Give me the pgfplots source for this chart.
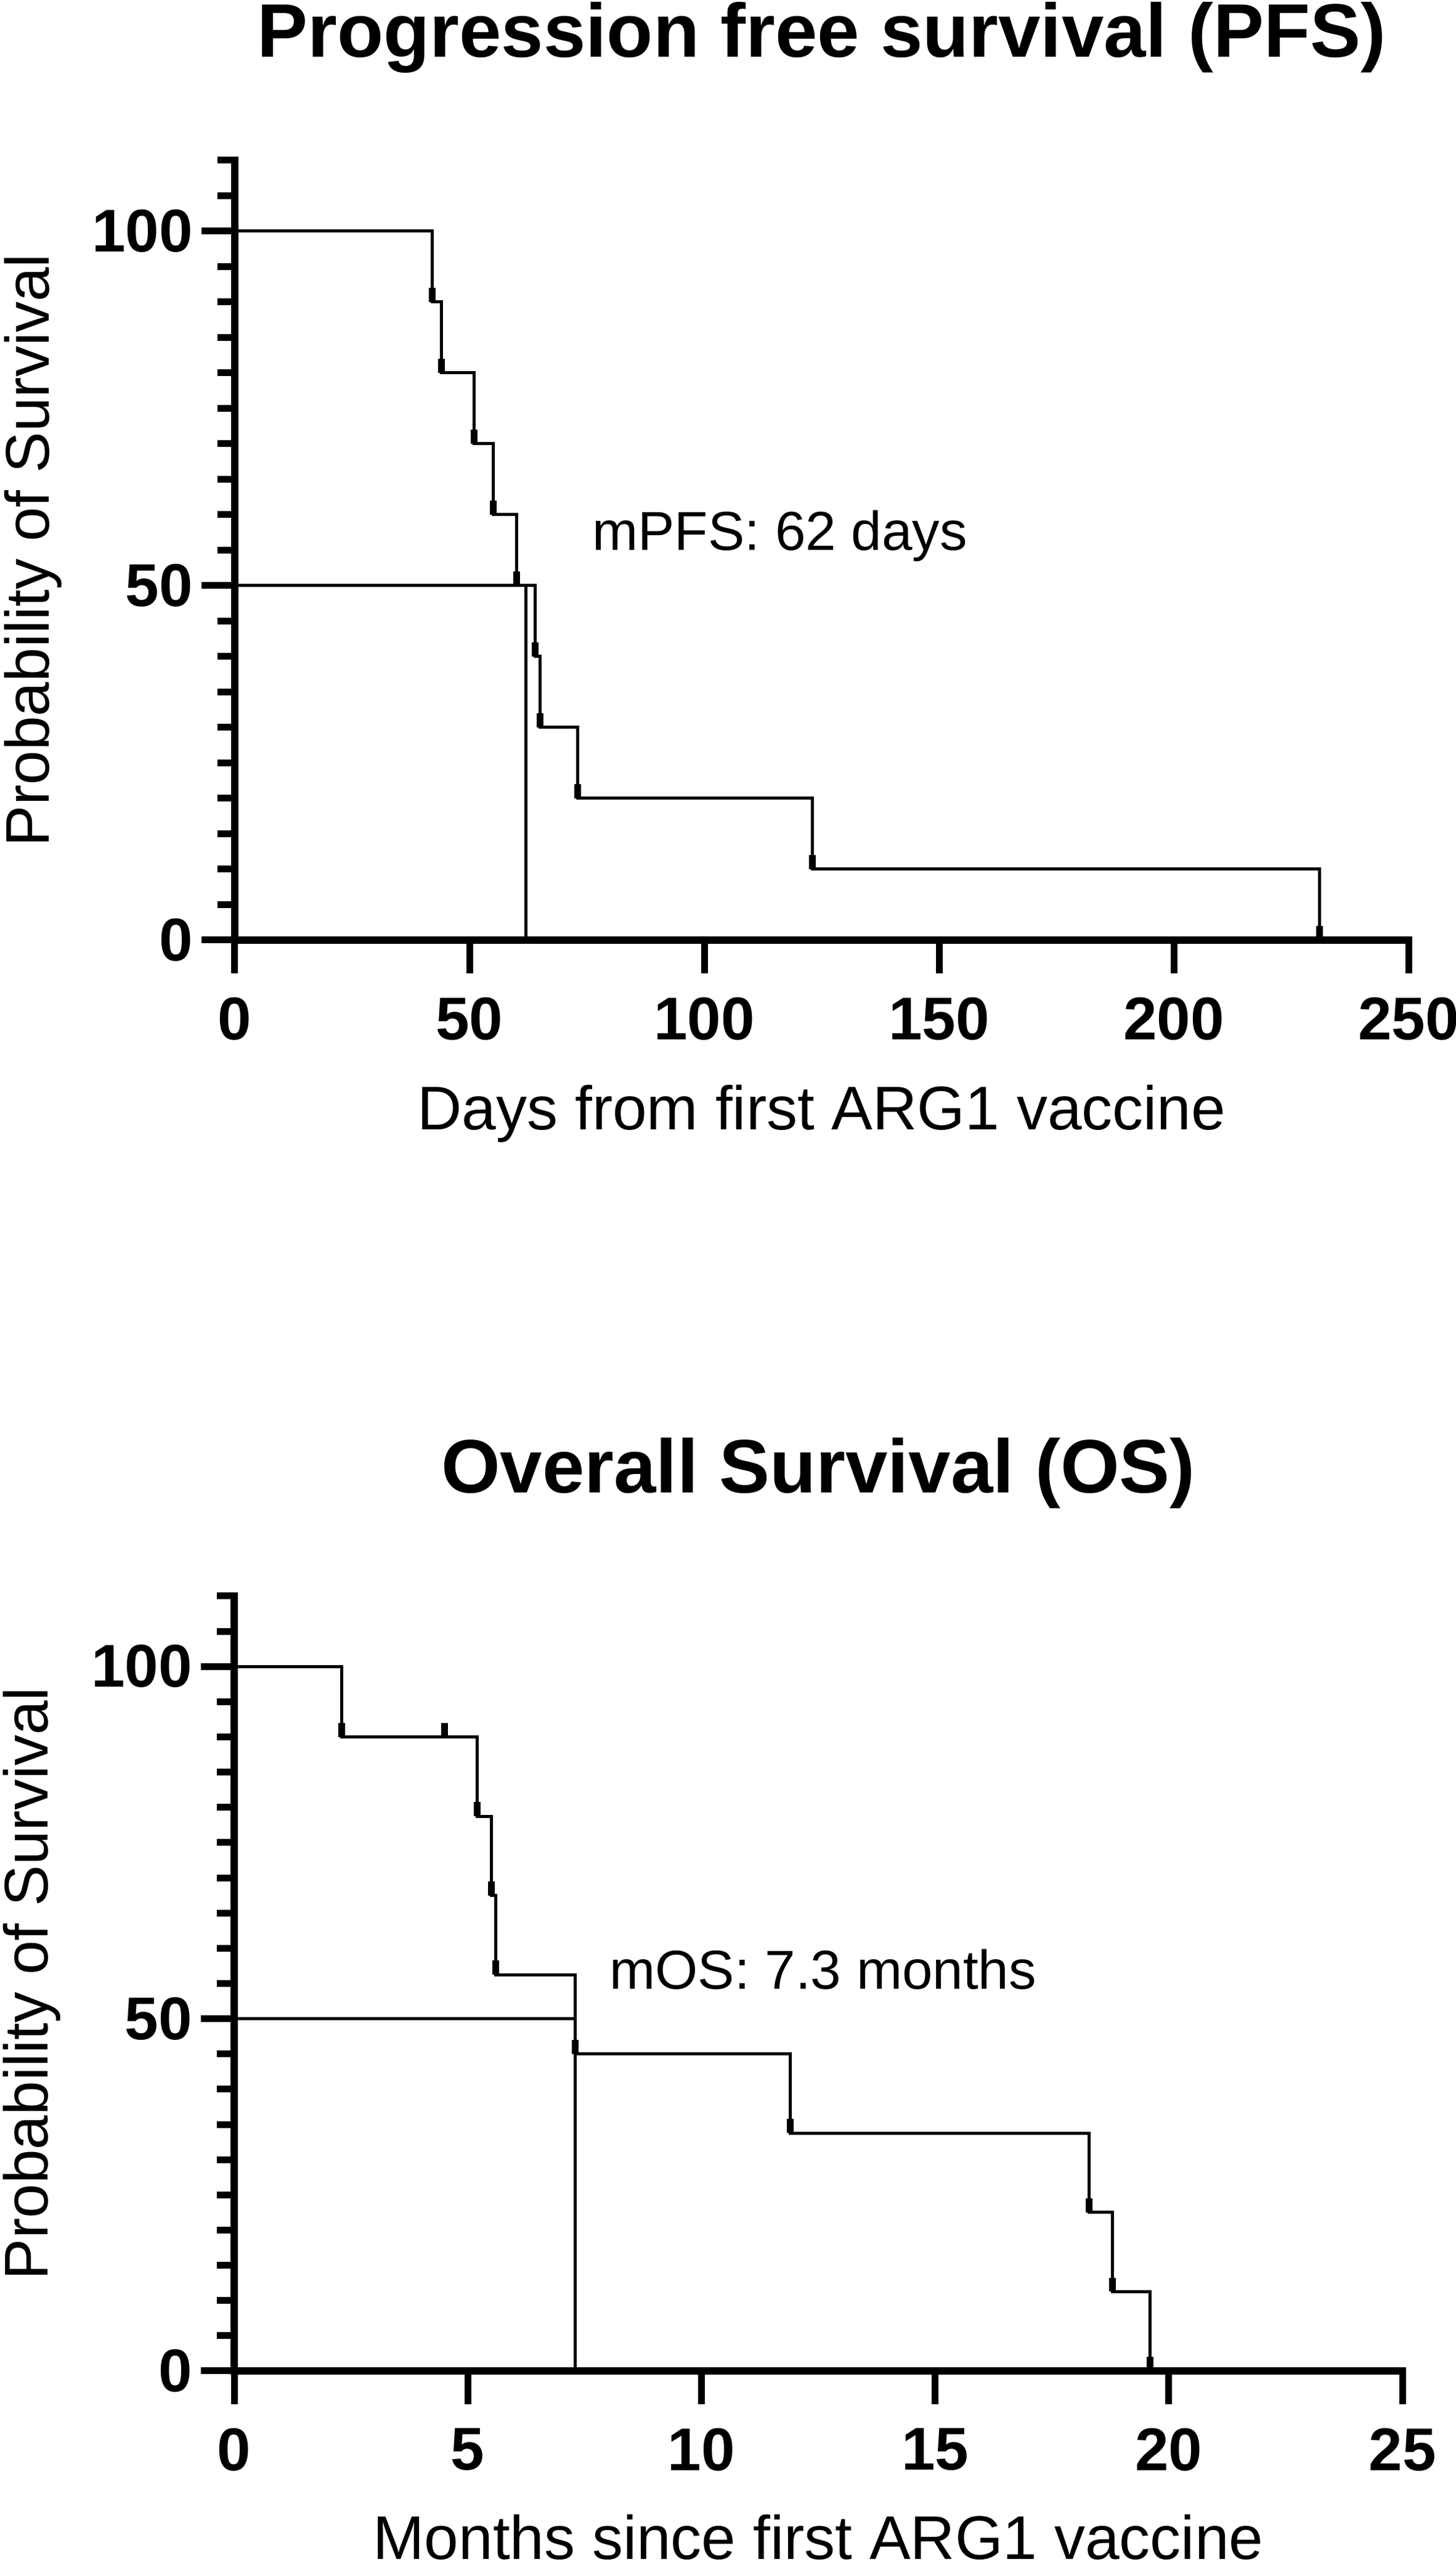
\documentclass[border=0pt]{standalone}
\usepackage{fontspec}
\setmainfont{Liberation Sans}
\usepackage{pgfplots}
\pgfplotsset{compat=1.18}
\pgfplotsset{
  kmstyle/.style={
    scale only axis,
    axis lines=left,
    axis line style={-, line width=1.2pt, line cap=rect},
    enlargelimits=false,
    tick align=outside,
    tick style={black, line width=1.1pt},
    major tick length=5.4pt,
    minor tick length=2.8pt,
    ymin=0, ymax=110,
    ytick={0,50,100},
    minor ytick={5,10,...,45,55,60,...,95,105,110},
    /pgf/number format/assume math mode=true,
    ticklabel style={font=\fontsize{9.8}{10}\selectfont\bfseries},
    xticklabel style={anchor=north, inner sep=0pt, yshift=-3.7pt},
    yticklabel style={anchor=east, inner sep=0pt, xshift=-1.2pt},
    label style={font=\fontsize{10.4}{12}\selectfont},
    every axis title/.style={at={(axis description cs:0.5,1)}, anchor=base, yshift=16.7pt, inner sep=0pt, font=\fontsize{12.3}{14}\selectfont\bfseries},
    clip=false,
  },
}
\begin{document}
\begin{tikzpicture}
% ---------------- PFS ----------------
\begin{axis}[kmstyle,
  at={(38.1pt,263.9pt)}, anchor=south west,
  width=190.5pt, height=126.5pt,
  xmin=0, xmax=250,
  xtick={0,50,100,150,200,250},
  title={Progression free survival (PFS)},
  xlabel={Days from first ARG1 vaccine},
  ylabel={Probability of Survival},
  every axis x label/.style={at={(axis description cs:0.5,-0.2435)}, anchor=base},
  every axis y label/.style={at={(axis description cs:-0.1585,0.5)}, rotate=90, anchor=base},
]
\addplot[const plot, black, line width=0.5pt] coordinates {
 (0,100) (42,90) (44,80) (51,70) (55,60) (60,50) (64,40) (65,30) (73,20) (123,10) (231,0)};
\addplot[black, line width=0.5pt] coordinates {(0,50) (62,50) (62,0)};
\addplot[only marks, mark=|, mark size=1.15pt, mark options={line width=1.1pt, black}] coordinates {
 (42,91) (44,81) (51,71) (55,61) (60,51) (64,41) (65,31) (73,21) (123,11) (231,1)};
\node[anchor=base west, inner sep=0pt, font=\fontsize{8.9}{10}\selectfont] at (axis cs:75.9,55.0) {mPFS: 62 days};
\end{axis}
% ---------------- OS ----------------
\begin{axis}[kmstyle,
  at={(38.0pt,31.8pt)}, anchor=south west,
  width=189.6pt, height=125.7pt,
  xmin=0, xmax=25,
  xtick={0,5,10,15,20,25},
  title={Overall Survival (OS)},
  xlabel={Months since first ARG1 vaccine},
  ylabel={Probability of Survival},
  every axis x label/.style={at={(axis description cs:0.5,-0.2434)}, anchor=base},
  every axis y label/.style={at={(axis description cs:-0.1593,0.5)}, rotate=90, anchor=base},
]
\addplot[const plot, black, line width=0.5pt] coordinates {
 (0,100) (2.3,90) (5.2,78.75) (5.5,67.5) (5.6,56.25) (7.3,45) (11.9,33.75) (18.3,22.5) (18.8,11.25) (19.6,0)};
\addplot[black, line width=0.5pt] coordinates {(0,50) (7.3,50) (7.3,0)};
\addplot[only marks, mark=|, mark size=1.14pt, mark options={line width=1.1pt, black}] coordinates {
 (2.3,91) (4.5,91) (5.2,79.75) (5.5,68.5) (5.6,57.25) (7.3,46) (11.9,34.75) (18.3,23.5) (18.8,12.25) (19.6,1)};
\node[anchor=base west, inner sep=0pt, font=\fontsize{8.9}{10}\selectfont] at (axis cs:8.01,54.24) {mOS: 7.3 months};
\end{axis}
\pgfresetboundingbox
\path[use as bounding box] (0,0) rectangle (236.2pt,416.4pt);
\end{tikzpicture}
\end{document}
